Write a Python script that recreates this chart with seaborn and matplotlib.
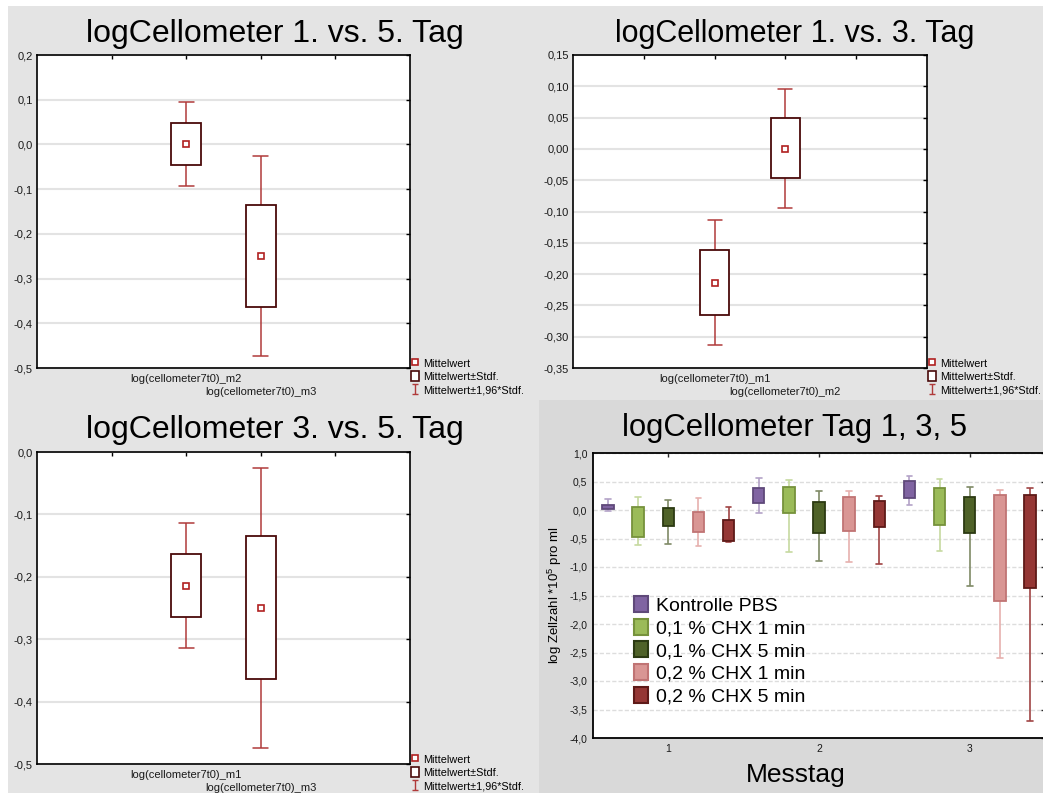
import numpy as np
import pandas as pd
import matplotlib
matplotlib.use("Agg")
import matplotlib.pyplot as plt
from matplotlib.patches import Rectangle, Patch
from matplotlib.lines import Line2D
from matplotlib.path import Path
import matplotlib.ticker as mticker
import matplotlib.transforms as mtransforms
import seaborn as sns

# ---------------- data ----------------
# Panel 1: Tag 1 vs 5  (mean, mean±SD box, mean±1.96 SD whiskers)
p1_vars = ["log(cellometer7t0)_m2", "log(cellometer7t0)_m3"]
p1_mean = [0.000, -0.250]
p1_sd_lo = [-0.047, -0.364]
p1_sd_hi = [0.049, -0.135]
p1_ci_lo = [-0.094, -0.474]
p1_ci_hi = [0.096, -0.025]

# Panel 2: Tag 1 vs 3
p2_vars = ["log(cellometer7t0)_m1", "log(cellometer7t0)_m2"]
p2_mean = [-0.214, 0.000]
p2_sd_lo = [-0.265, -0.047]
p2_sd_hi = [-0.162, 0.049]
p2_ci_lo = [-0.314, -0.094]
p2_ci_hi = [-0.113, 0.096]

# Panel 3: Tag 3 vs 5
p3_vars = ["log(cellometer7t0)_m1", "log(cellometer7t0)_m3"]
p3_mean = [-0.214, -0.250]
p3_sd_lo = [-0.265, -0.364]
p3_sd_hi = [-0.163, -0.135]
p3_ci_lo = [-0.314, -0.474]
p3_ci_hi = [-0.113, -0.025]

legend_labels = ["Mittelwert", "Mittelwert\u00b1Stdf.", "Mittelwert\u00b11,96*Stdf."]

# Panel 4: box plots per Messtag and group (rows = groups, cols = days 1,2,3)
days = ["1", "2", "3"]
groups = ["Kontrolle PBS", "0,1 % CHX 1 min", "0,1 % CHX 5 min",
          "0,2 % CHX 1 min", "0,2 % CHX 5 min"]
g_min = [[-0.01, -0.06, 0.09],
         [-0.61, -0.74, -0.72],
         [-0.59, -0.89, -1.33],
         [-0.64, -0.92, -2.59],
         [-0.56, -0.94, -3.70]]
g_q1 = [[0.015, 0.12, 0.21],
        [-0.48, -0.06, -0.27],
        [-0.28, -0.41, -0.41],
        [-0.39, -0.37, -1.60],
        [-0.55, -0.30, -1.36]]
g_q3 = [[0.086, 0.38, 0.51],
        [0.05, 0.40, 0.38],
        [0.03, 0.14, 0.23],
        [-0.04, 0.23, 0.26],
        [-0.18, 0.16, 0.26]]
g_max = [[0.19, 0.57, 0.59],
         [0.22, 0.53, 0.54],
         [0.17, 0.34, 0.41],
         [0.21, 0.33, 0.35],
         [0.06, 0.24, 0.39]]

# ---------------- style ----------------
W, H = 1043, 793
FONT = ["Liberation Sans", "DejaVu Sans"]
sns.set_theme(style="white")
plt.rcParams["font.family"] = FONT
plt.rcParams["mathtext.default"] = "regular"
plt.rcParams["text.color"] = "black"
plt.rcParams["axes.labelcolor"] = "black"

BOXEDGE = "#4a0a0a"
WHISK = "#b03a3a"
MEANC = "#b02020"
PANEL = "#e4e4e4"
PANEL2 = "#d9d9d9"

fills = ["#8064a2", "#9bbb59", "#4f6228", "#d99694", "#953735"]
edges = ["#5f497a", "#76923c", "#2c3a12", "#c07474", "#5e1a18"]
whisk = ["#b3a2c7", "#c6d9a0", "#7f8a66", "#e6b0ae", "#a04444"]

fig = plt.figure(figsize=(W / 100, H / 100), dpi=100, facecolor="white")


def px_rect(x0, y0, x1, y1, color):
    fig.add_artist(Rectangle((x0 / W, 1 - y1 / H), (x1 - x0) / W, (y1 - y0) / H,
                             transform=fig.transFigure, facecolor=color,
                             edgecolor="none", zorder=-10))


px_rect(8, 6, 520, 400, PANEL)
px_rect(520, 6, 1043, 400, PANEL)
px_rect(8, 400, 539, 793, PANEL)
px_rect(539, 400, 1043, 793, PANEL2)


def px_axes(l, t, r, b):
    return fig.add_axes([l / W, 1 - b / H, (r - l) / W, (b - t) / H])


def comma_fmt(dec):
    def f(v, p):
        v = round(v, dec)
        if v == 0:
            v = 0.0
        return f"{abs(v) if v == 0 else v:.{dec}f}".replace(".", ",")
    return mticker.FuncFormatter(f)


ibeam = Path([(-0.6, 1), (0.6, 1), (0, 1), (0, -1), (-0.6, -1), (0.6, -1)],
             [Path.MOVETO, Path.LINETO, Path.MOVETO, Path.LINETO, Path.MOVETO, Path.LINETO])


def stat_panel(ax, names, mean, sd_lo, sd_hi, ci_lo, ci_hi, ylo, yhi, step, dec,
               legend_xy):
    rows = []
    for i, n in enumerate(names):
        for v in (ci_lo[i], sd_lo[i], mean[i], sd_hi[i], ci_hi[i]):
            rows.append({"var": n, "val": v})
    df = pd.DataFrame(rows)
    sns.boxplot(data=df, x="var", y="val", order=names, ax=ax, whis=(0, 100),
                width=0.4, color="white", saturation=1, linecolor=BOXEDGE,
                linewidth=1.3, showfliers=False,
                whiskerprops=dict(color=WHISK, linewidth=1.1),
                capprops=dict(color=WHISK, linewidth=1.1),
                medianprops=dict(linewidth=0),
                boxprops=dict(facecolor="white", edgecolor=BOXEDGE, linewidth=1.3, zorder=3))
    n0 = len(ax.lines)
    mdf = pd.DataFrame({"var": names, "val": mean})
    sns.pointplot(data=mdf, x="var", y="val", order=names, ax=ax, errorbar=None,
                  markers="s", linestyles="none", color=MEANC, markersize=4.2)
    for ln in ax.lines[n0:]:
        ln.set_markerfacecolor("white")
        ln.set_markeredgecolor(MEANC)
        ln.set_markeredgewidth(1.2)
        ln.set_zorder(5)
    ax.set_xlim(-2, 3)
    ax.set_ylim(ylo, yhi)
    ticks = np.arange(ylo, yhi + step / 2, step)
    ax.set_yticks(ticks)
    ax.yaxis.set_major_formatter(comma_fmt(dec))
    ax.set_xticks([0, 1])
    ax.set_xticklabels(names)
    ax.set_xticks([-1, 2], minor=True)
    ax.set_xlabel("")
    ax.set_ylabel("")
    ax.grid(axis="y", color="#e3e3e3", linewidth=1.5, zorder=0)
    ax.set_axisbelow(True)
    ax.tick_params(axis="both", which="both", direction="in", length=3, width=1,
                   top=True, right=True, labelsize=8, colors="black", pad=3,
                   labelcolor="#1a1a1a")
    ax.tick_params(axis="x", which="major", pad=4)
    # stagger the second category label one line lower
    lbl = ax.get_xticklabels()[1]
    shift = mtransforms.ScaledTranslation(0, -13 / 100, fig.dpi_scale_trans)
    lbl.set_transform(lbl.get_transform() + shift)
    for s in ax.spines.values():
        s.set_color("black")
        s.set_linewidth(1.2)
        s.set_visible(True)
    handles = [
        Line2D([], [], linestyle="none", marker="s", markersize=4, markerfacecolor="white",
               markeredgecolor=MEANC, markeredgewidth=1.2),
        Patch(facecolor="white", edgecolor=BOXEDGE, linewidth=1.2),
        Line2D([], [], linestyle="none", marker=ibeam, markersize=7.5, markerfacecolor="none",
               markeredgecolor=WHISK, markeredgewidth=1.0),
    ]
    fig.legend(handles, legend_labels, loc="upper left",
               bbox_to_anchor=(legend_xy[0] / W, 1 - legend_xy[1] / H),
               frameon=False, fontsize=7.8, handlelength=0.75, handleheight=1.0,
               handletextpad=0.35, labelspacing=0.25, borderpad=0, borderaxespad=0)


ax1 = px_axes(37, 55, 410, 368)
stat_panel(ax1, p1_vars, p1_mean, p1_sd_lo, p1_sd_hi, p1_ci_lo, p1_ci_hi,
           -0.5, 0.2, 0.1, 1, (411, 358))
ax2 = px_axes(573, 55, 927, 368)
stat_panel(ax2, p2_vars, p2_mean, p2_sd_lo, p2_sd_hi, p2_ci_lo, p2_ci_hi,
           -0.35, 0.15, 0.05, 2, (928, 358))
ax3 = px_axes(37, 452, 410, 764)
stat_panel(ax3, p3_vars, p3_mean, p3_sd_lo, p3_sd_hi, p3_ci_lo, p3_ci_hi,
           -0.5, 0.0, 0.1, 1, (411, 754))

fig.text(275 / W, 1 - 42 / H, "logCellometer 1. vs. 5. Tag", ha="center", va="baseline", fontsize=23)
fig.text(795 / W, 1 - 42 / H, "logCellometer 1. vs. 3. Tag", ha="center", va="baseline", fontsize=22)
fig.text(275 / W, 1 - 438 / H, "logCellometer 3. vs. 5. Tag", ha="center", va="baseline", fontsize=23)

# ---------------- panel 4 ----------------
ax4 = px_axes(593, 453, 1045, 738)
palette = dict(zip(groups, fills))
for gi, g in enumerate(groups):
    rows = []
    for di, d in enumerate(days):
        for v in (g_min[gi][di], g_q1[gi][di], g_q1[gi][di],
                  g_q3[gi][di], g_q3[gi][di], g_max[gi][di]):
            rows.append({"Messtag": d, "val": v, "group": g})
    sub = pd.DataFrame(rows)
    sns.boxplot(data=sub, x="Messtag", y="val", hue="group", order=days,
                hue_order=groups, palette=palette, dodge=True, width=1.0, gap=0.62,
                saturation=1, whis=(0, 100), showfliers=False, linecolor=edges[gi],
                linewidth=1.3, legend=False, ax=ax4,
                whiskerprops=dict(color=whisk[gi], linewidth=1.2),
                capprops=dict(color=whisk[gi], linewidth=1.2),
                medianprops=dict(linewidth=0),
                boxprops=dict(zorder=3))

ax4.set_xlim(-0.5, 2.5)
ax4.set_ylim(-4.0, 1.0)
ax4.set_yticks(np.arange(-4.0, 1.01, 0.5))
ax4.yaxis.set_major_formatter(comma_fmt(1))
ax4.set_xticks([0, 1, 2])
ax4.set_xticklabels(days)
ax4.set_xlabel("")
ax4.set_ylabel("log Zellzahl *10$^{5}$ pro ml", fontsize=9.5, labelpad=4)
ax4.grid(axis="y", color="#dddddd", linewidth=1.0, linestyle=(0, (3, 1.5)), zorder=0)
ax4.set_axisbelow(True)
ax4.tick_params(axis="both", direction="in", length=3, width=1, top=True, right=True,
                labelsize=7.5, pad=4, labelcolor="#1a1a1a")
for s in ax4.spines.values():
    s.set_color("black")
    s.set_linewidth(1.3)
    s.set_visible(True)

leg_handles = [Patch(facecolor=fills[i], edgecolor=edges[i], linewidth=1.5) for i in range(len(groups))]
ax4.legend(leg_handles, groups, loc="upper left",
           bbox_to_anchor=((634 - 593) / 452, (738 - 596) / 285),
           frameon=False, fontsize=14, handlelength=0.72, handleheight=0.9,
           handletextpad=0.4, labelspacing=0.2, borderpad=0, borderaxespad=0)

fig.text(795 / W, 1 - 436 / H, "logCellometer Tag 1, 3, 5", ha="center", va="baseline", fontsize=22.3)
fig.text(796 / W, 1 - 775 / H, "Messtag", ha="center", va="center", fontsize=19)

fig.savefig("out.png", dpi=100, facecolor=fig.get_facecolor())
